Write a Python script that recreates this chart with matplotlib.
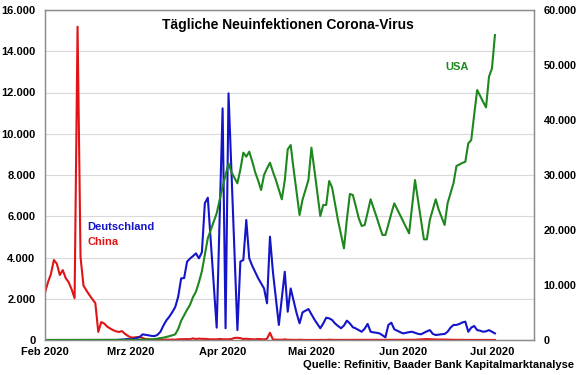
import matplotlib
matplotlib.use("Agg")
import matplotlib.pyplot as plt
import matplotlib.ticker as mticker
import pandas as pd

plt.rcParams['font.family'] = ['Liberation Sans', 'DejaVu Sans']
plt.rcParams['font.weight'] = 'bold'

start_date = "2020-02-01"

china = [2300, 2800, 3200, 3880, 3700, 3150, 3390, 3000, 2800, 2450,
         2030, 15190, 4030, 2640, 2400, 2180, 1980, 1790, 390, 870,
         800, 650, 560, 480, 420, 390, 430, 300, 200, 125,
         119, 139, 143, 99, 44, 40, 19, 24, 15, 8,
         11, 20, 16, 21, 13, 34, 39, 41, 46, 39,
         78, 47, 67, 55, 54, 45, 31, 35, 30, 48,
         36, 35, 34, 46, 99, 108, 89, 46, 60, 45,
         40, 30, 50, 40, 30, 60, 351, 27, 16, 12,
         11, 30, 12, 11, 6, 3, 12, 5, 2, 1,
         3, 3, 2, 7, 2, 1, 17, 7, 3, 4,
         7, 5, 5, 8, 4, 6, 5, 3, 4, 6,
         5, 4, 3, 5, 8, 6, 4, 5, 7, 6,
         5, 4, 6, 8, 10, 12, 20, 30, 40, 45,
         35, 30, 25, 20, 22, 18, 15, 12, 10, 8,
         8, 6, 5, 4, 5, 4, 3, 3, 2, 3,
         3, 2, 2]

deutschland = [0, 0, 0, 0, 0, 0, 0, 0, 0, 0,
               0, 0, 0, 0, 0, 0, 0, 0, 0, 0,
               0, 0, 0, 0, 2, 10, 20, 30, 50, 30,
               60, 90, 150, 275, 250, 220, 200, 190, 250, 400,
               700, 950, 1130, 1350, 1600, 2100, 2990, 3000, 3800, 3950,
               4070, 4200, 3960, 4250, 6630, 6900, 4800, 2700, 600, 5900,
               11230, 570, 11960, 8100, 4300, 480, 3800, 3880, 5820, 3960,
               3600, 3300, 3000, 2750, 2500, 1780, 5010, 3300, 2000, 730,
               2000, 3310, 1370, 2500, 1900, 1300, 810, 1340, 1420, 1500,
               1250, 1000, 780, 570, 800, 1080, 1050, 970, 800, 680,
               570, 700, 940, 800, 620, 560, 480, 400, 550, 780,
               400, 370, 350, 320, 230, 130, 730, 840, 520, 450,
               380, 320, 350, 380, 400, 350, 300, 275, 350, 420,
               480, 300, 240, 260, 280, 290, 400, 600, 730, 730,
               780, 850, 890, 400, 600, 680, 480, 450, 400, 420,
               480, 400, 320]

usa = [0, 0, 0, 0, 0, 0, 0, 0, 0, 0,
       0, 0, 0, 0, 0, 0, 0, 0, 0, 0,
       0, 0, 0, 0, 0, 5, 10, 10, 15, 20,
       30, 40, 50, 70, 90, 100, 120, 150, 250, 350,
       420, 550, 700, 850, 1030, 2000, 3500, 4500, 5500, 6400,
       7800, 8790, 10500, 12500, 15500, 18500, 20000, 21500, 23030, 25500,
       27880, 30000, 32120, 30500, 29500, 28490, 31000, 34060, 33330, 34240,
       32500, 30500, 29000, 27270, 30000, 31200, 32240, 30600, 29090, 27300,
       25580, 29000, 34670, 35450, 31000, 26800, 22730, 25500, 27270, 29090,
       34970, 31000, 26800, 22550, 24550, 24550, 28910, 27700, 24700, 21700,
       19200, 16670, 22000, 26550, 26360, 24300, 22120, 20730, 20910, 23200,
       25580, 24000, 22400, 20700, 19100, 19100, 21000, 23000, 24850, 23760,
       22660, 21570, 20480, 19390, 24240, 29090, 25500, 21900, 18300, 18300,
       21820, 23700, 25580, 23700, 22300, 20910, 24850, 26670, 28500, 31640,
       31900, 32200, 32420, 35760, 36360, 41000, 45450, 44400, 43300, 42300,
       47880, 49390, 55450]

left_ticks = [0, 2000, 4000, 6000, 8000, 10000, 12000, 14000, 16000]
right_ticks = [0, 10000, 20000, 30000, 40000, 50000, 60000]
month_labels = ["Feb 2020", "Mrz 2020", "Apr 2020", "Mai 2020", "Jun 2020", "Jul 2020"]
month_starts = pd.to_datetime(["2020-02-01", "2020-03-01", "2020-04-01",
                               "2020-05-01", "2020-06-01", "2020-07-01"])

dates_c = pd.date_range(start_date, periods=len(china), freq="D")
dates_d = pd.date_range(start_date, periods=len(deutschland), freq="D")
dates_u = pd.date_range(start_date, periods=len(usa), freq="D")

BLUE = "#1414c8"
RED = "#e01414"
GREEN = "#1e871e"
GRID = "#d9d9d9"
SPINE = "#8c8c8c"

fig = plt.figure(figsize=(5.8, 3.75), dpi=100)
ax = fig.add_axes([45/580, 1-340/375, (534-45)/580, (340-10)/375])
ax2 = ax.twinx()

ax.plot(dates_d, deutschland, color=BLUE, lw=1.5, zorder=3)
ax.plot(dates_c, china, color=RED, lw=1.5, zorder=2)
ax2.plot(dates_u, usa, color=GREEN, lw=1.5)

ax.set_ylim(0, 16000)
ax2.set_ylim(0, 60000)
x0 = pd.Timestamp(start_date)
ax.set_xlim(x0, x0 + pd.Timedelta(days=165.2))

fmt = mticker.FuncFormatter(lambda v, p: f"{int(v):,}".replace(",", "."))
ax.set_yticks(left_ticks)
ax.yaxis.set_major_formatter(fmt)
ax2.set_yticks(right_ticks)
ax2.yaxis.set_major_formatter(fmt)
ax.set_xticks(month_starts)
ax.set_xticklabels(month_labels)

ax.grid(axis='y', color=GRID, lw=0.8)
ax.set_axisbelow(True)
ax.tick_params(axis='both', length=0, labelsize=8)
ax.tick_params(axis='y', pad=7)
ax.tick_params(axis='x', pad=5)
ax2.tick_params(axis='y', length=0, labelsize=7.8, pad=7)

for a in (ax, ax2):
    for s in a.spines.values():
        s.set_color(SPINE)
        s.set_linewidth(0.9)

fig.text(288/580, 1-25/375, "Tägliche Neuinfektionen Corona-Virus",
         ha='center', va='center', fontsize=10, fontweight='bold')
fig.text(87/580, 1-227/375, "Deutschland", color=BLUE, ha='left', va='center',
         fontsize=8, fontweight='bold')
fig.text(87/580, 1-242/375, "China", color=RED, ha='left', va='center',
         fontsize=8, fontweight='bold')
fig.text(445/580, 1-67/375, "USA", color=GREEN, ha='left', va='center',
         fontsize=8, fontweight='bold')
fig.text(574/580, 1-365/375, "Quelle: Refinitiv, Baader Bank Kapitalmarktanalyse",
         ha='right', va='center', fontsize=8, fontweight='bold')

fig.savefig("out.png", dpi=100)
